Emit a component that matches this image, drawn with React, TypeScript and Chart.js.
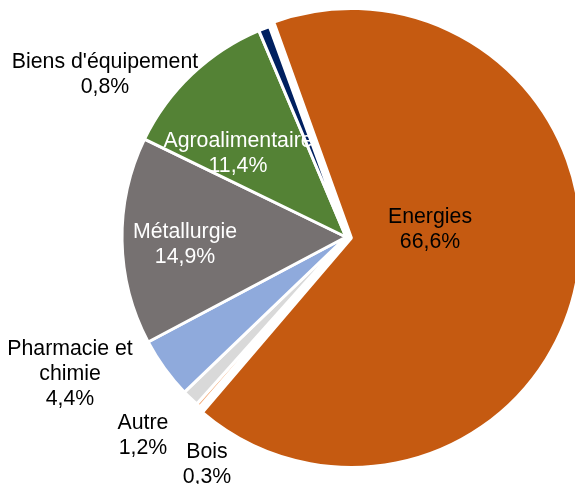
import React, { useEffect, useRef } from "react";
import { Chart, registerables } from "chart.js";

Chart.register(...registerables);

const categories = ["Energies", "Bois", "Autre", "Pharmacie et\nchimie", "Métallurgie", "Agroalimentaire", "Biens d'équipement"];
const values = [66.6, 0.3, 1.2, 4.4, 14.9, 11.4, 0.8];
const valueLabels = ["66,6%", "0,3%", "1,2%", "4,4%", "14,9%", "11,4%", "0,8%"];
const colors = ["#C55A11", "#F4B183", "#D9D9D9", "#8FAADC", "#767171", "#548235", "#002060"];
const labelColors = ["#000000", "#000000", "#000000", "#000000", "#FFFFFF", "#FFFFFF", "#000000"];

// label block centre offsets relative to the pie centre (layout only)
const labelOffsets: [number, number][] = [
  [84, -7],
  [-139, 228],
  [-203, 199],
  [-276, 137],
  [-161, 8],
  [-108, -83],
  [-241, -162],
];

const labelPlugin = {
  id: "pieLabels",
  afterDatasetsDraw(chart: any) {
    const ctx = chart.ctx;
    const meta = chart.getDatasetMeta(0);
    const lineH = 25;
    ctx.save();
    ctx.font = "21.3px 'Liberation Sans', Arial, sans-serif";
    ctx.textAlign = "center";
    ctx.textBaseline = "middle";
    meta.data.forEach((arc: any, i: number) => {
      const lines = categories[i].split("\n").concat([valueLabels[i]]);
      const [dx, dy] = labelOffsets[i];
      const cx = arc.x + dx;
      const cy = arc.y + dy;
      const top = cy - ((lines.length - 1) * lineH) / 2;
      ctx.fillStyle = labelColors[i];
      lines.forEach((ln: string, j: number) => {
        ctx.fillText(ln, cx, top + j * lineH);
      });
    });
    ctx.restore();
  },
};

export default function App() {
  const ref = useRef<HTMLCanvasElement | null>(null);
  useEffect(() => {
    if (!ref.current) return;
    const chart = new Chart(ref.current, {
      type: "pie",
      data: {
        labels: categories,
        datasets: [
          {
            data: values,
            backgroundColor: colors,
            borderColor: "#FFFFFF",
            borderWidth: 3,
            offset: [22, 0, 0, 0, 0, 0, 0],
            radius: 224,
          } as any,
        ],
      },
      options: {
        animation: false,
        responsive: false,
        rotation: -20,
        layout: { padding: { left: 117, right: 0, top: 0, bottom: 10 } },
        plugins: {
          legend: { display: false },
          tooltip: { enabled: false },
        },
      },
      plugins: [labelPlugin],
    });
    return () => chart.destroy();
  }, []);
  return (
    <div style={{ position: "absolute", left: 0, top: 0, width: 575, height: 484, background: "#fff" }}>
      <canvas ref={ref} width={575} height={484} style={{ display: "block" }} />
    </div>
  );
}
